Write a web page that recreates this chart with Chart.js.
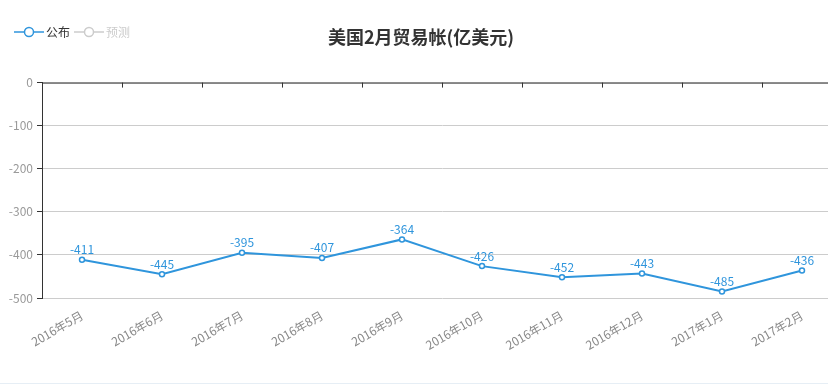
<!DOCTYPE html>
<html>
<head>
<meta charset="utf-8">
<script src="https://cdn.jsdelivr.net/npm/chart.js@4.4.1/dist/chart.umd.min.js"></script>
<style>
    html, body { margin: 0; padding: 0; background: #fff; overflow: hidden; }
    #wrap { position: relative; width: 850px; height: 386px; }
    #legend { position: absolute; left: 14px; top: 23px; font: 12px "Noto Sans CJK SC", sans-serif; display: flex; align-items: center; }
    .leg-item { display: flex; align-items: center; margin-right: 4px; }
    .leg-item span { margin-left: 2px; }
    #bottomLine { position: absolute; left: 0; top: 383px; width: 850px; height: 1px; background: #e6eef5; }
</style>
</head>
<body>
<div id="wrap">
    <canvas id="chart"></canvas>
    <div id="legend"></div>
    <div id="bottomLine"></div>
</div>
<script>
// Datos del gráfico
const categorias = ['2016年5月', '2016年6月', '2016年7月', '2016年8月', '2016年9月', '2016年10月', '2016年11月', '2016年12月', '2017年1月', '2017年2月'];
const valoresPublicados = [-411, -445, -395, -407, -364, -426, -452, -443, -485, -436];
const ticksY = [0, -100, -200, -300, -400, -500];
const series = [
    { nombre: '公布', color: '#2f95dc', texto: '#333' },
    { nombre: '预测', color: '#ccc', texto: '#ccc' }
];

const fuente = '"Noto Sans CJK SC", "Microsoft YaHei", sans-serif';

// Leyenda en HTML
const legend = document.getElementById('legend');
series.forEach(s => {
    const item = document.createElement('div');
    item.className = 'leg-item';
    item.innerHTML = `
        <svg width="30" height="16" viewBox="0 0 30 16">
            <line x1="0" y1="8" x2="30" y2="8" stroke="${s.color}" stroke-width="1.5"></line>
            <circle cx="15" cy="8" r="4.5" fill="#fff" stroke="${s.color}" stroke-width="1.5"></circle>
        </svg>
        <span style="color:${s.texto}">${s.nombre}</span>
    `;
    legend.appendChild(item);
});

// Eje superior con marcas entre categorías
const ejeSuperior = {
    id: 'ejeSuperior',
    afterDraw(chart) {
        const { ctx, chartArea } = chart;
        const x = chart.scales.x;
        ctx.save();
        ctx.strokeStyle = '#333';
        ctx.lineWidth = 1;
        ctx.beginPath();
        ctx.moveTo(chartArea.left, chartArea.top + 0.5);
        ctx.lineTo(chartArea.right, chartArea.top + 0.5);
        for (let i = 0; i < categorias.length - 1; i++) {
            const px = Math.round((x.getPixelForTick(i) + x.getPixelForTick(i + 1)) / 2) + 0.5;
            ctx.moveTo(px, chartArea.top);
            ctx.lineTo(px, chartArea.top + 5);
        }
        ctx.stroke();
        ctx.restore();
    }
};

// Etiquetas de valores
const etiquetas = {
    id: 'etiquetas',
    afterDatasetsDraw(chart) {
        const { ctx } = chart;
        const meta = chart.getDatasetMeta(0);
        ctx.save();
        ctx.fillStyle = series[0].color;
        ctx.font = '12px ' + fuente;
        ctx.textAlign = 'center';
        ctx.textBaseline = 'bottom';
        meta.data.forEach((pt, i) => {
            ctx.fillText(valoresPublicados[i], pt.x, pt.y - 4);
        });
        ctx.restore();
    }
};

new Chart(document.getElementById('chart'), {
    type: 'line',
    data: {
        labels: categorias,
        datasets: [{
            label: series[0].nombre,
            data: valoresPublicados,
            borderColor: series[0].color,
            backgroundColor: '#fff',
            borderWidth: 2,
            pointRadius: 2.5,
            pointBorderWidth: 1.5,
            pointBackgroundColor: '#fff',
            pointBorderColor: series[0].color,
            tension: 0
        }]
    },
    options: {
        responsive: true,
        maintainAspectRatio: false,
        animation: false,
        layout: { padding: { top: 0, right: 8, bottom: 0, left: 0 } },
        plugins: {
            legend: { display: false },
            tooltip: { enabled: false },
            title: {
                display: true,
                text: '美国2月贸易帐(亿美元)',
                color: '#333',
                font: { size: 18, weight: 'bold', family: fuente },
                padding: { top: 26, bottom: 35 }
            }
        },
        scales: {
            x: {
                offset: true,
                grid: { display: false },
                border: { display: false },
                ticks: {
                    color: '#888',
                    font: { size: 12, family: fuente },
                    minRotation: 30,
                    maxRotation: 30,
                    autoSkip: false,
                    padding: 2
                },
                afterFit(scale) { scale.height = 88; }
            },
            y: {
                min: -500,
                max: 0,
                afterBuildTicks(scale) { scale.ticks = ticksY.map(v => ({ value: v })); },
                grid: { color: '#ccc', tickColor: '#333', tickLength: 5 },
                border: { color: '#333', width: 1 },
                ticks: {
                    color: '#999',
                    font: { size: 12, family: fuente },
                    padding: 4
                },
                afterFit(scale) { scale.width = 42; }
            }
        }
    },
    plugins: [ejeSuperior, etiquetas]
});
</script>
</body>
</html>
